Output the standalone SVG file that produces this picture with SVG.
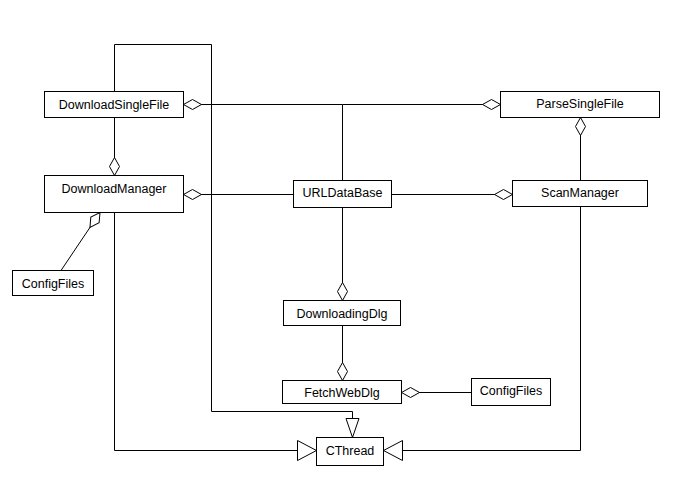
<svg xmlns="http://www.w3.org/2000/svg" width="681" height="488" viewBox="0 0 681 488">
  <style>
    .box { fill: #ffffff; stroke: #000000; stroke-width: 1; }
    .lbl { font-family: "Liberation Sans", Arial, sans-serif; font-size: 12.5px; fill: #000000; text-anchor: middle; }
    .link { fill: none; stroke: #000000; stroke-width: 1; }
    .agg { marker-start: url(#diamond); }
    .gen-h { marker-end: url(#triH); }
    .gen-v { marker-end: url(#triV); }
  </style>
  <defs>
    <!-- hollow aggregation diamond, drawn along the path from its start -->
    <marker id="diamond" markerUnits="userSpaceOnUse" orient="auto" refX="0" refY="0" markerWidth="20" markerHeight="12" overflow="visible">
      <path d="M0,0 L9,-5 L18,0 L9,5 Z" fill="#ffffff" stroke="#000000" stroke-width="1"/>
    </marker>
    <!-- hollow generalization triangles, tip at the path end -->
    <marker id="triH" markerUnits="userSpaceOnUse" orient="auto" refX="0" refY="0" markerWidth="20" markerHeight="22" overflow="visible">
      <path d="M0,0 L-19,-10 L-19,10 Z" fill="#ffffff" stroke="#000000" stroke-width="1"/>
    </marker>
    <marker id="triV" markerUnits="userSpaceOnUse" orient="auto" refX="0" refY="0" markerWidth="20" markerHeight="16" overflow="visible">
      <path d="M0,0 L-19,-6.5 L-19,6.5 Z" fill="#ffffff" stroke="#000000" stroke-width="1"/>
    </marker>
  </defs>

  <rect x="0" y="0" width="681" height="488" fill="#ffffff"/>

  <g id="connectors">
    <!-- aggregations -->
    <path class="link agg" d="M183.5,104.5 H342.5"/>
    <path class="link agg" d="M500.5,104.5 H342.5"/>
    <path class="link" d="M342.5,180.5 V104.5"/>
    <path class="link agg" d="M183.5,194.5 H293.5"/>
    <path class="link agg" d="M512.5,194.5 H391.5"/>
    <path class="link agg" d="M114.5,175.5 V117.5"/>
    <path class="link agg" d="M580.5,117.5 V180.5"/>
    <path class="link agg" d="M100,212.5 L61,270.5"/>
    <path class="link agg" d="M342.5,300.5 V207.5"/>
    <path class="link agg" d="M342.5,380.5 V325.5"/>
    <path class="link agg" d="M401.5,392.5 H471.5"/>
    <!-- generalizations to CThread -->
    <path class="link gen-v" d="M114.5,91.5 V44.5 H211.5 V411.5 H352.5 V437.5"/>
    <path class="link gen-h" d="M114.5,212.5 V450.5 H316.5"/>
    <path class="link gen-h" d="M580.5,206.5 V450.5 H383.5"/>
  </g>

  <g id="DownloadSingleFile">
    <rect class="box" x="44.5" y="91.5" width="139" height="26"/>
    <text class="lbl" x="114" y="108.5">DownloadSingleFile</text>
  </g>
  <g id="DownloadManager">
    <rect class="box" x="44.5" y="175.5" width="139" height="37"/>
    <text class="lbl" x="114" y="192.5">DownloadManager</text>
  </g>
  <g id="ConfigFiles1">
    <rect class="box" x="12.5" y="270.5" width="81" height="25"/>
    <text class="lbl" x="53" y="287.5">ConfigFiles</text>
  </g>
  <g id="ParseSingleFile">
    <rect class="box" x="500.5" y="91.5" width="159" height="26"/>
    <text class="lbl" x="580" y="108">ParseSingleFile</text>
  </g>
  <g id="URLDataBase">
    <rect class="box" x="293.5" y="180.5" width="98" height="27"/>
    <text class="lbl" x="342.5" y="196.5">URLDataBase</text>
  </g>
  <g id="ScanManager">
    <rect class="box" x="512.5" y="180.5" width="135" height="26"/>
    <text class="lbl" x="580" y="196.5">ScanManager</text>
  </g>
  <g id="DownloadingDlg">
    <rect class="box" x="283.5" y="300.5" width="117" height="25"/>
    <text class="lbl" x="342" y="318">DownloadingDlg</text>
  </g>
  <g id="FetchWebDlg">
    <rect class="box" x="282.5" y="380.5" width="119" height="23"/>
    <text class="lbl" x="342" y="397">FetchWebDlg</text>
  </g>
  <g id="ConfigFiles2">
    <rect class="box" x="471.5" y="378.5" width="79" height="27"/>
    <text class="lbl" x="511" y="395">ConfigFiles</text>
  </g>
  <g id="CThread">
    <rect class="box" x="316.5" y="437.5" width="67" height="28"/>
    <text class="lbl" x="350" y="454.5">CThread</text>
  </g>
</svg>
